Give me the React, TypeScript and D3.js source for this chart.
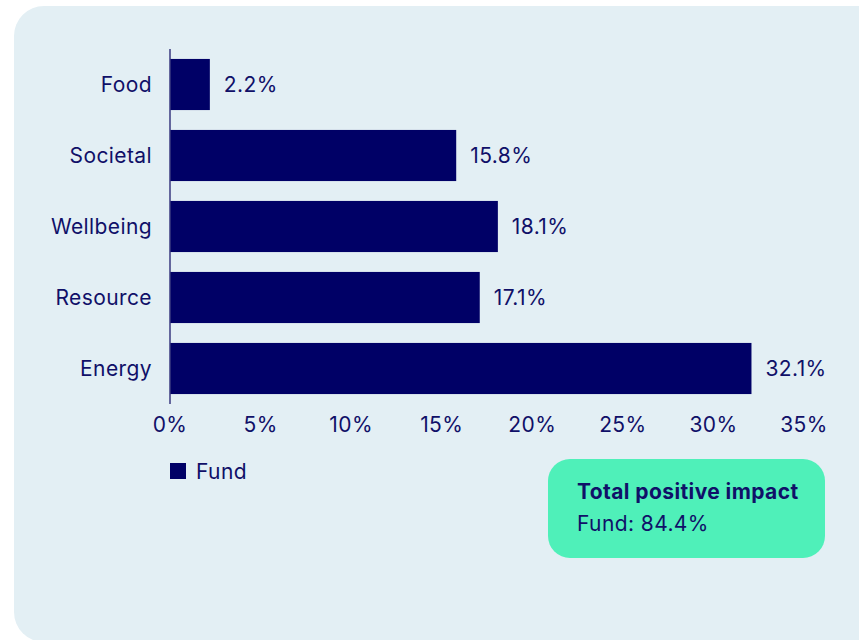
import React from "react";
import * as d3 from "d3";

const categories = ["Food", "Societal", "Wellbeing", "Resource", "Energy"];
const fundValues = [2.2, 15.8, 18.1, 17.1, 32.1];
const xTicks = [0, 5, 10, 15, 20, 25, 30, 35];
const seriesName = "Fund";
const totalTitle = "Total positive impact";
const totalValue = 84.4;

const W = 859;
const H = 640;
const NAVY = "#000066";
const TEXT = "#101068";
const FONT = "Inter, 'Noto Sans', sans-serif";
const FS = 21;
const LS = 0.4;

export default function App() {
  const x = d3.scaleLinear().domain([0, 35]).range([170, 804]);
  const y = d3
    .scaleBand<string>()
    .domain(categories)
    .range([49, 404])
    .paddingInner(0.28)
    .paddingOuter(0.14);

  return (
    <svg
      width={W}
      height={H}
      style={{ position: "absolute", left: 0, top: 0, display: "block" }}
      fontFamily={FONT}
      letterSpacing={LS}
    >
      <rect x={0} y={0} width={W} height={H} fill="#ffffff" />
      <rect x={14} y={6} width={900} height={636} rx={30} ry={30} fill="#e3eff4" />

      {categories.map((c, i) => (
        <g key={c}>
          <rect
            x={x(0)}
            y={y(c)!}
            width={x(fundValues[i]) - x(0)}
            height={y.bandwidth()}
            fill={NAVY}
          />
          <text
            x={152}
            y={y(c)! + y.bandwidth() / 2}
            dy="0.36em"
            textAnchor="end"
            fontSize={FS}
            fill={TEXT}
          >
            {c}
          </text>
          <text
            x={x(fundValues[i]) + 14}
            y={y(c)! + y.bandwidth() / 2}
            dy="0.36em"
            textAnchor="start"
            fontSize={FS}
            fill={TEXT}
          >
            {fundValues[i].toFixed(1)}%
          </text>
        </g>
      ))}

      <line x1={x(0)} x2={x(0)} y1={49} y2={404} stroke="#3a3a80" strokeWidth={1.5} />

      {xTicks.map((t) => (
        <text
          key={t}
          x={x(t)}
          y={432}
          textAnchor="middle"
          fontSize={FS}
          fill={TEXT}
        >
          {t}%
        </text>
      ))}

      <rect x={170} y={463} width={16} height={16} fill={NAVY} />
      <text x={196} y={479} fontSize={FS} fill={TEXT}>
        {seriesName}
      </text>

      <rect x={548} y={459} width={277} height={99} rx={22} ry={22} fill="#4ff0b9" />
      <text x={577} y={499} fontSize={FS} fontWeight={700} fill={TEXT}>
        {totalTitle}
      </text>
      <text x={577} y={531} fontSize={FS} fill={TEXT}>
        {seriesName}: {totalValue.toFixed(1)}%
      </text>
    </svg>
  );
}
